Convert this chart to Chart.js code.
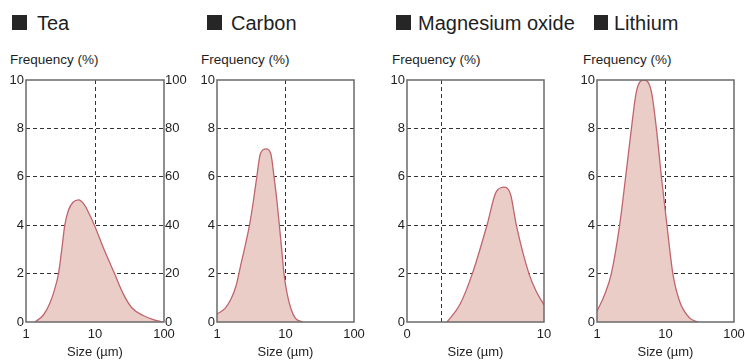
<!DOCTYPE html>
<html>
<head>
<meta charset="utf-8">
<script src="https://cdn.jsdelivr.net/npm/chart.js@4.4.1/dist/chart.umd.min.js"></script>
<style>
  html, body { margin:0; padding:0; width:745px; height:360px; overflow:hidden; background:#fff; }
  body { position:relative; font-family:"Liberation Sans", Arial, sans-serif; color:#1e1e1e; }
  canvas { position:absolute; top:0; }
  .ttl { position:absolute; top:13px; font-size:20px; line-height:20px; white-space:nowrap; }
  .sq { position:absolute; top:15px; width:15px; height:15px; background:#262626; }
  .yl { position:absolute; top:53px; font-size:13.5px; line-height:14px; white-space:nowrap; }
</style>
</head>
<body>
<div class="sq" style="left:12px"></div><div class="ttl" style="left:37px">Tea</div>
<div class="sq" style="left:207px"></div><div class="ttl" style="left:231px">Carbon</div>
<div class="sq" style="left:396px"></div><div class="ttl" style="left:418px">Magnesium oxide</div>
<div class="sq" style="left:594px;width:14px"></div><div class="ttl" style="left:614px">Lithium</div>
<div class="yl" style="left:10px">Frequency (%)</div>
<div class="yl" style="left:201px">Frequency (%)</div>
<div class="yl" style="left:392px">Frequency (%)</div>
<div class="yl" style="left:583px">Frequency (%)</div>
<canvas id="c1" width="190" height="360" style="left:0px"></canvas>
<canvas id="c2" width="190" height="360" style="left:190px"></canvas>
<canvas id="c3" width="190" height="360" style="left:380px"></canvas>
<canvas id="c4" width="190" height="360" style="left:570px"></canvas>
<script>
// ---- data ----
const teaSize = [1.35, 1.8, 2.2, 2.6, 2.96, 3.3, 3.65, 4.1, 4.8, 5.8, 7.0, 8.3, 9.8, 13.3, 19.2, 26, 34.4, 50, 70, 94];
const teaFreq = [0, 0.3, 0.75, 1.35, 2, 3, 4, 4.6, 4.95, 5.05, 4.85, 4.45, 4, 3.05, 2, 1.13, 0.58, 0.27, 0.1, 0];

const carbonSize = [1, 1.3, 1.6, 1.9, 2.2, 2.6, 2.98, 3.4, 3.81, 4.3, 5.2, 6.1, 6.8, 7.5, 8.13, 8.8, 9.5, 10.5, 12, 14, 17.8];
const carbonFreq = [0.33, 0.55, 0.95, 1.5, 2.3, 3.2, 4, 5, 6, 6.95, 7.15, 6.95, 6, 5, 4, 3, 2, 1.2, 0.55, 0.15, 0];

const mgSize = [2.92, 3.85, 4.77, 5.84, 6.52, 7.13, 7.57, 7.98, 8.9, 9.44, 10];
const mgFreq = [0, 0.71, 2, 4, 5.39, 5.57, 5.25, 4, 2, 1.26, 0.71];

const liSize = [1, 1.29, 1.62, 2.14, 2.62, 3.18, 3.76, 4.8, 6.22, 7.36, 8.71, 10.5, 12.8, 16.1, 22.6, 29.8];
const liFreq = [0.44, 1.13, 2, 4, 6, 8, 9.52, 10, 9.52, 8, 6, 4, 2, 0.85, 0.16, 0];

// ---- ticks ----
const freqTicks = [0, 2, 4, 6, 8, 10];
const teaRightTicks = [0, 20, 40, 60, 80, 100];
const logTicks = [1, 10, 100];
const logGrid = [10];
const mgTicks = [0, 2.5, 10];
const mgTickLabels = [0, 10];
const mgGrid = [2.5];
const xTitle = 'Size (\u00b5m)';

const FONT = 'Liberation Sans, Arial, sans-serif';
const TXT = '#1e1e1e';
const GRID = '#333';
const LINE = '#c0656e';
const FILL = '#ebcdc8';

const frame = {
  id: 'frame',
  afterDraw(chart) {
    const a = chart.chartArea, ctx = chart.ctx;
    ctx.save();
    ctx.strokeStyle = '#6a6a6a';
    ctx.lineWidth = 1.5;
    ctx.strokeRect(a.left, a.top, a.right - a.left, a.bottom - a.top);
    ctx.restore();
  }
};

function make(id, xs, ys, opts) {
  const pts = xs.map((x, i) => ({x: x, y: ys[i]}));
  const scales = {
    x: {
      type: opts.log ? 'logarithmic' : 'linear',
      min: opts.xmin, max: opts.xmax,
      z: 1,
      afterBuildTicks: s => { s.ticks = opts.xticks.map(v => ({value: v})); },
      afterFit: s => { s.height = 38; },
      ticks: {
        autoSkip: false, maxRotation: 0, padding: 5, color: TXT,
        font: {family: FONT, size: 13},
        callback: v => opts.xlabels.includes(v) ? String(v) : ''
      },
      grid: {
        drawTicks: false,
        lineWidth: 1,
        color: c => (c.tick && opts.xgrid.includes(c.tick.value)) ? GRID : 'rgba(0,0,0,0)'
      },
      border: {display: false, dash: [4, 3]},
      title: {display: true, text: xTitle, color: TXT, font: {family: FONT, size: 13}, padding: {top: 0, bottom: 0}}
    },
    y: {
      position: 'left',
      min: 0, max: 10, z: 1,
      afterBuildTicks: s => { s.ticks = freqTicks.map(v => ({value: v})); },
      afterFit: s => { s.width = opts.lw; },
      ticks: {padding: 2, color: TXT, font: {family: FONT, size: 13}, callback: v => String(v)},
      grid: {
        drawTicks: false, lineWidth: 1,
        color: c => (c.tick && c.tick.value > 0 && c.tick.value < 10) ? GRID : 'rgba(0,0,0,0)'
      },
      border: {display: false, dash: [4, 3]}
    }
  };
  if (opts.right) {
    scales.y2 = {
      position: 'right', min: 0, max: 100, z: 1,
      afterBuildTicks: s => { s.ticks = teaRightTicks.map(v => ({value: v})); },
      afterFit: s => { s.width = 26; },
      ticks: {padding: 1, color: TXT, font: {family: FONT, size: 13}, callback: v => String(v)},
      grid: {display: false, drawTicks: false},
      border: {display: false}
    };
  }
  return new Chart(document.getElementById(id), {
    type: 'line',
    data: {datasets: [{
      data: pts,
      borderColor: LINE, borderWidth: 1.3,
      backgroundColor: FILL, fill: 'origin',
      pointRadius: 0, cubicInterpolationMode: 'monotone'
    }]},
    options: {
      responsive: false, animation: false,
      layout: {padding: {top: 80, right: opts.right ? 0 : 26, left: 0, bottom: 0}},
      plugins: {legend: {display: false}, tooltip: {enabled: false}, title: {display: false}},
      scales: scales
    },
    plugins: [frame]
  });
}

make('c1', teaSize, teaFreq, {log: true, xmin: 1, xmax: 100, xticks: logTicks, xlabels: logTicks, xgrid: logGrid, lw: 26, right: true});
make('c2', carbonSize, carbonFreq, {log: true, xmin: 1, xmax: 100, xticks: logTicks, xlabels: logTicks, xgrid: logGrid, lw: 27});
make('c3', mgSize, mgFreq, {log: false, xmin: 0, xmax: 10, xticks: mgTicks, xlabels: mgTickLabels, xgrid: mgGrid, lw: 27});
make('c4', liSize, liFreq, {log: true, xmin: 1, xmax: 100, xticks: logTicks, xlabels: logTicks, xgrid: logGrid, lw: 27});
</script>
</body>
</html>
